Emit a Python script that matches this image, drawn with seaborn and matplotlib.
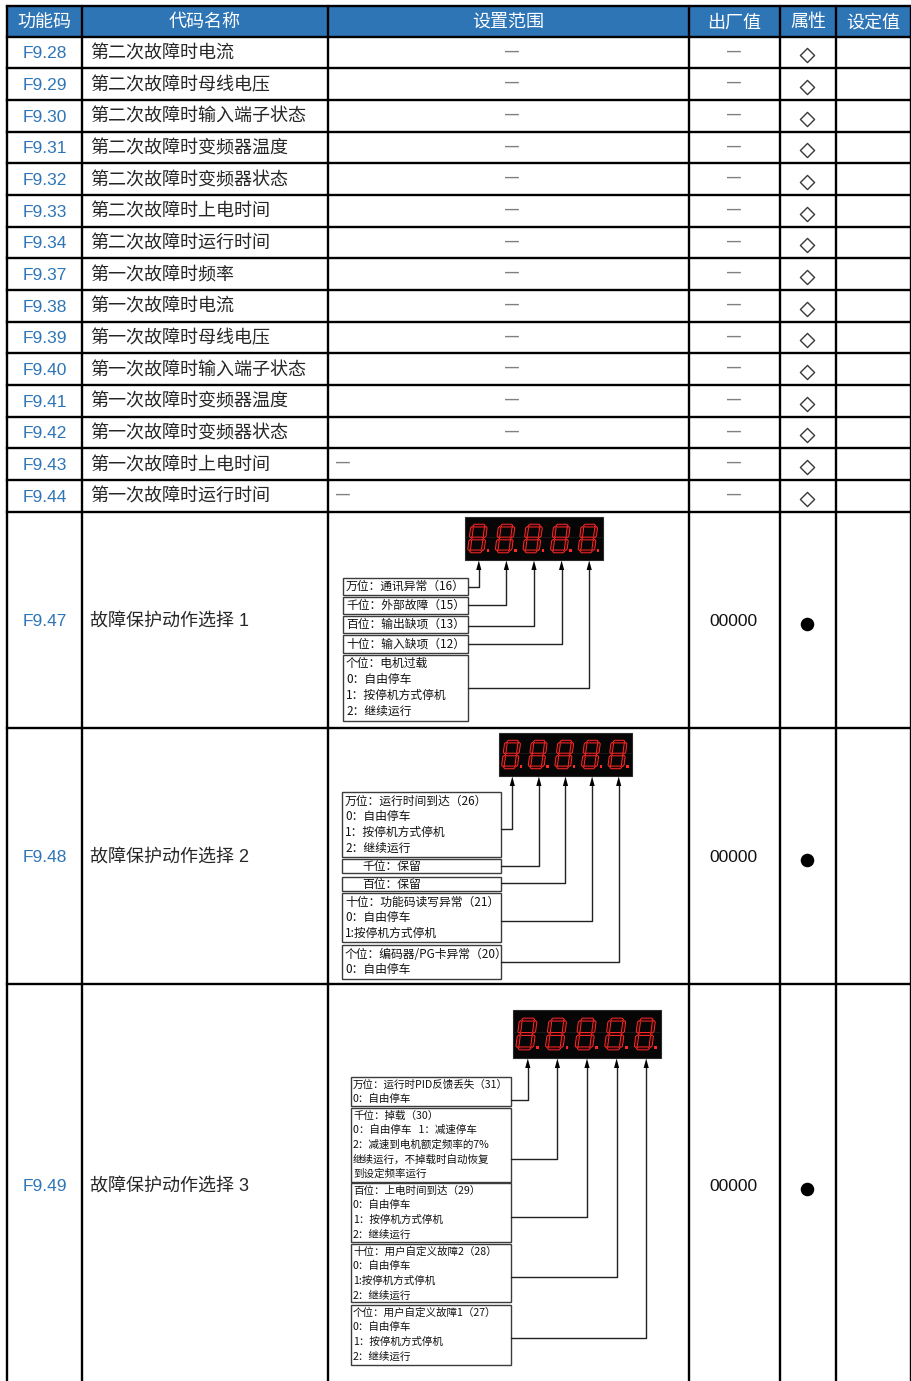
import numpy as np
import pandas as pd
import matplotlib.pyplot as plt
import seaborn as sns
from matplotlib.patches import Rectangle, Polygon

# ---- table content ----
headers = ['功能码', '代码名称', '设置范围', '出厂值', '属性', '设定值']
codes = ['F9.28', 'F9.29', 'F9.30', 'F9.31', 'F9.32', 'F9.33', 'F9.34', 'F9.37',
         'F9.38', 'F9.39', 'F9.40', 'F9.41', 'F9.42', 'F9.43', 'F9.44',
         'F9.47', 'F9.48', 'F9.49']
names = ['第二次故障时电流', '第二次故障时母线电压', '第二次故障时输入端子状态',
         '第二次故障时变频器温度', '第二次故障时变频器状态', '第二次故障时上电时间',
         '第二次故障时运行时间', '第一次故障时频率', '第一次故障时电流',
         '第一次故障时母线电压', '第一次故障时输入端子状态', '第一次故障时变频器温度',
         '第一次故障时变频器状态', '第一次故障时上电时间', '第一次故障时运行时间',
         '故障保护动作选择 1', '故障保护动作选择 2', '故障保护动作选择 3']
ranges = ['—'] * 15 + ['', '', '']
range_left = [False] * 13 + [True, True] + [False, False, False]
defaults = ['—'] * 15 + ['00000', '00000', '00000']
attrs = ['◇'] * 15 + ['●', '●', '●']

# ---- diagram content (setting range of F9.47 / F9.48 / F9.49) ----
boxes1 = ['万位：通讯异常（16）',
          '千位：外部故障（15）',
          '百位：输出缺项（13）',
          '十位：输入缺项（12）',
          '个位：电机过载\n0：自由停车\n1：按停机方式停机\n2：继续运行']
boxes2 = ['万位：运行时间到达（26）\n0：自由停车\n1：按停机方式停机\n2：继续运行',
          '千位：保留',
          '百位：保留',
          '十位：功能码读写异常（21）\n0：自由停车\n1:按停机方式停机',
          '个位：编码器/PG卡异常（20）\n0：自由停车']
boxes3 = ['万位：运行时PID反馈丢失（31）\n0：自由停车',
          '千位：掉载（30）\n0：自由停车   1：减速停车\n2：减速到电机额定频率的7%\n继续运行，不掉载时自动恢复\n到设定频率运行',
          '百位：上电时间到达（29）\n0：自由停车\n1：按停机方式停机\n2：继续运行',
          '十位：用户自定义故障2（28）\n0：自由停车\n1:按停机方式停机\n2：继续运行',
          '个位：用户自定义故障1（27）\n0：自由停车\n1：按停机方式停机\n2：继续运行']

# ---- layout (pixels) ----
W, H = 912, 1381
col_edges = [7, 82, 328, 689, 780, 836, 911]
row_edges = [6, 36.6] + [36.6 + 31.67 * k for k in range(1, 16)] + [728, 984, 1390]

diagrams = [
    dict(texts=boxes1, disp=(465, 517, 603, 560), bx=(343, 468), fs=8.5, first=8, step=16,
         boxes=[(578, 595, 587), (597, 614, 605), (616, 633, 626), (635, 653, 644), (655, 721, 688)],
         indent=[3, 3, 3, 3, 3]),
    dict(texts=boxes2, disp=(499, 733, 632, 776), bx=(342, 501), fs=8.5, first=9, step=15.7,
         boxes=[(792, 857, 829), (859, 873, 866), (877, 891, 883), (893, 942, 921), (945, 979, 962)],
         indent=[3, 20, 20, 3, 3]),
    dict(texts=boxes3, disp=(513, 1010, 661, 1058), bx=(351, 511), fs=7.6, first=7.5, step=14.6,
         boxes=[(1077, 1106, 1100), (1108, 1182, 1159), (1183, 1242, 1217), (1244, 1302, 1277), (1305, 1365, 1338)],
         indent=[2, 2, 2, 2, 2]),
]

sns.set_theme(style='white')
plt.rcParams['font.family'] = ['Liberation Sans', 'Noto Sans CJK SC', 'DejaVu Sans']
CJK = ['Noto Sans CJK SC', 'DejaVu Sans']

fig = plt.figure(figsize=(W / 100, H / 100), dpi=100)
ax = fig.add_axes([0, 0, 1, 1])


def seg_poly(p, q, t):
    u = (q - p) / np.linalg.norm(q - p)
    n = np.array([-u[1], u[0]])
    h = t / 2
    return np.array([p, p + u * h + n * h, q - u * h + n * h, q, q - u * h - n * h, p + u * h - n * h])


def draw_display(x0, y0, x1, y1, n=5):
    ax.add_patch(Rectangle((x0, y0), x1 - x0, y1 - y0, facecolor='#060606',
                           edgecolor='#2a2a2a', lw=0.8, zorder=3))
    ax.plot([x0, x1], [(y0 + y1) / 2 - 2, (y0 + y1) / 2 - 2], color='#1c1c1c', lw=0.6, zorder=3)
    cw = (x1 - x0) / n
    gh = (y1 - y0) * 0.6
    gw = cw * 0.5
    t = cw * 0.1
    g = t * 0.3
    top = y0 + (y1 - y0 - gh) / 2
    for i in range(n):
        left = x0 + cw * i + cw * 0.14
        P = {'tl': (left, top), 'tr': (left + gw, top), 'ml': (left, top + gh / 2),
             'mr': (left + gw, top + gh / 2), 'bl': (left, top + gh), 'br': (left + gw, top + gh)}
        for a, b in [('tl', 'tr'), ('tr', 'mr'), ('mr', 'br'), ('bl', 'br'),
                     ('ml', 'bl'), ('tl', 'ml'), ('ml', 'mr')]:
            pa, pb = np.array(P[a], float), np.array(P[b], float)
            u = (pb - pa) / np.linalg.norm(pb - pa)
            poly = seg_poly(pa + u * g, pb - u * g, t)
            poly[:, 0] += (top + gh - poly[:, 1]) * 0.13
            ax.add_patch(Polygon(poly, closed=True, facecolor='#2a0000',
                                 edgecolor='#ff2a2a', lw=0.7, zorder=4))
        ax.add_patch(Rectangle((left + gw + t * 1.4, top + gh - t * 0.8), t * 0.9, t * 0.9,
                               facecolor='#ff2a2a', edgecolor='none', zorder=4))
    return [x0 + cw * (i + 0.5) for i in range(n)]


# header band
ax.add_patch(Rectangle((col_edges[0], row_edges[0]), col_edges[-1] - col_edges[0],
                       row_edges[1] - row_edges[0], facecolor='#2E75B6', edgecolor='none', zorder=1))
for i, h in enumerate(headers):
    cx = (col_edges[i] + col_edges[i + 1]) / 2
    ax.text(cx, (row_edges[0] + row_edges[1]) / 2 + 1, h, color='white', fontsize=13,
            ha='center', va='center', family=CJK, zorder=5)

# grid lines
for y in row_edges[:-1]:
    ax.plot([col_edges[0], col_edges[-1]], [y, y], color='black', lw=1.7, zorder=6,
            solid_capstyle='projecting')
for x in col_edges:
    ax.plot([x, x], [row_edges[0], H + 5], color='black', lw=1.7, zorder=6)

# row contents
centers = []
for r in range(len(codes)):
    y0, y1 = row_edges[r + 1], row_edges[r + 2]
    cy = (y0 + y1) / 2 if r < 17 else 1187 - 2
    centers.append(cy)
    ax.text((col_edges[0] + col_edges[1]) / 2, cy + 1.5, codes[r], color='#2E75B6',
            fontsize=12.5, ha='center', va='center', zorder=5)
    ax.text(col_edges[1] + 8, cy + 1.5, names[r], color='#262626', fontsize=13,
            ha='left', va='center', zorder=5)
    if ranges[r]:
        if range_left[r]:
            ax.text(col_edges[2] + 8, cy - 1, ranges[r], color='#808080', fontsize=10,
                    fontweight='bold', ha='left', va='center', zorder=5)
        else:
            ax.text((col_edges[2] + col_edges[3]) / 2 + 3, cy - 1, ranges[r], color='#808080',
                    fontsize=10, fontweight='bold', ha='center', va='center', zorder=5)
    if defaults[r] == '—':
        ax.text((col_edges[3] + col_edges[4]) / 2 - 1, cy - 1, defaults[r], color='#808080',
                fontsize=10, fontweight='bold', ha='center', va='center', zorder=5)
    else:
        ax.text((col_edges[3] + col_edges[4]) / 2 - 1, cy + 1.5, defaults[r], color='#111111',
                fontsize=12.5, ha='center', va='center', zorder=5)

# attribute markers through seaborn
df = pd.DataFrame({'x': [(col_edges[4] + col_edges[5]) / 2 - 1] * len(codes),
                   'y': centers, 'attr': attrs})
df['y'] = df['y'] + np.where(df['attr'] == '◇', 3, 4)
sns.scatterplot(data=df[df['attr'] == '◇'], x='x', y='y', marker='D', s=52,
                facecolor='white', edgecolor='#3a3a3a', linewidth=1.0, ax=ax, zorder=7, legend=False)
sns.scatterplot(data=df[df['attr'] == '●'], x='x', y='y', marker='o', s=95,
                color='black', edgecolor='black', linewidth=0, ax=ax, zorder=7, legend=False)

# diagrams
for d in diagrams:
    xs = draw_display(*d['disp'])
    dy1 = d['disp'][3]
    bx0, bx1 = d['bx']
    for k, (text, (y0, y1, ly)) in enumerate(zip(d['texts'], d['boxes'])):
        ax.add_patch(Rectangle((bx0, y0), bx1 - bx0, y1 - y0, facecolor='white',
                               edgecolor='#3c3c3c', lw=1.0, zorder=4))
        lines = text.split('\n')
        for j, line in enumerate(lines):
            ty = (y0 + y1) / 2 if len(lines) == 1 else y0 + d['first'] + d['step'] * j
            ax.text(bx0 + d['indent'][k], ty, line, fontsize=d['fs'], color='#111111',
                    ha='left', va='center', family=CJK, zorder=5)
        ax.plot([bx1, xs[k], xs[k]], [ly, ly, dy1 + 9], color='#222222', lw=1.0, zorder=4)
        ax.add_patch(Polygon([(xs[k], dy1 + 0.5), (xs[k] - 2.6, dy1 + 10), (xs[k] + 2.6, dy1 + 10)],
                             closed=True, facecolor='black', edgecolor='none', zorder=5))

ax.set_xlim(0, W)
ax.set_ylim(H, 0)
ax.axis('off')
fig.savefig('out.png', dpi=100)
